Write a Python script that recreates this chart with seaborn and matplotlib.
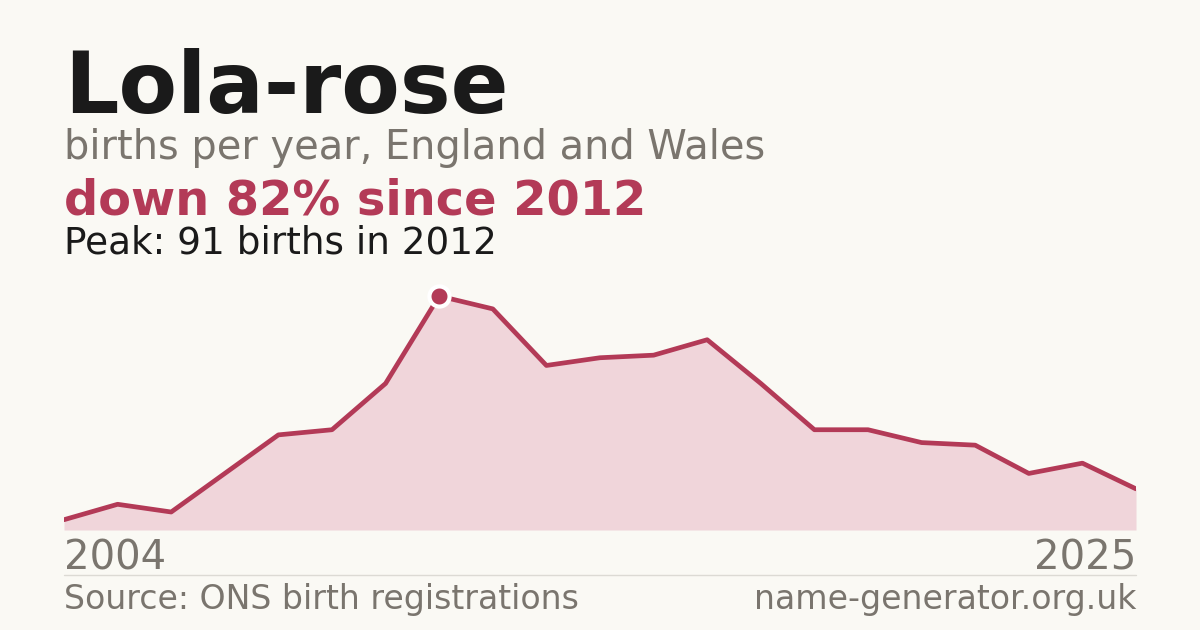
import numpy as np
import pandas as pd
import seaborn as sns
import matplotlib
matplotlib.use("Agg")
import matplotlib.pyplot as plt

# data (points are evenly spaced, one year has no entry)
years = [2004, 2005, 2006, 2008, 2009, 2010, 2011, 2012, 2013, 2014, 2015,
         2016, 2017, 2018, 2019, 2020, 2021, 2022, 2023, 2024, 2025]
births = [4, 10, 7, 22, 37, 39, 57, 91, 86, 64, 67,
          68, 74, 57, 39, 39, 34, 33, 22, 26, 16]

name = "Lola-rose"
subtitle = "births per year, England and Wales"
source = "Source: ONS birth registrations"
site = "name-generator.org.uk"

bg = "#faf9f4"
red = "#b33a57"
fill = "#f0d5da"
grey = "#7a756e"
dark = "#1a1a1a"

df = pd.DataFrame({"idx": range(len(years)), "year": years, "births": births})
peak_i = int(np.argmax(births))
peak_year = years[peak_i]
peak_val = births[peak_i]
drop = round((1 - births[-1] / peak_val) * 100)

sns.set_theme(style="white")
plt.rcParams['font.family'] = ['DejaVu Sans']

fig = plt.figure(figsize=(12, 6.3), dpi=100, facecolor=bg)
ax = fig.add_axes([64 / 1200, 100 / 630, 1072 / 1200, 257.1 / 630])
ax.set_facecolor(bg)

ax.fill_between(df["idx"], df["births"], 0, color=fill, linewidth=0, zorder=1)
sns.lineplot(data=df, x="idx", y="births", ax=ax, color=red, linewidth=3.4,
             zorder=2)
ax.scatter([peak_i], [peak_val], s=210, color=red, edgecolor="white",
           linewidth=3, zorder=3, clip_on=False)

ax.set_xlim(0, len(years) - 1)
ax.set_ylim(0, 100)
ax.set_xticks([])
ax.set_yticks([])
ax.set_xlabel("")
ax.set_ylabel("")
for s in ax.spines.values():
    s.set_visible(False)

# year labels under the ends
ax.text(0, -0.153, str(years[0]), transform=ax.transAxes,
        ha="left", va="baseline", fontsize=28.9, color=grey)
ax.text(1, -0.153, str(years[-1]), transform=ax.transAxes,
        ha="right", va="baseline", fontsize=28.9, color=grey)

# headings
x0 = 64 / 1200
fig.text(x0, 1 - 112.7 / 630, name, fontsize=61.5, fontweight="bold",
         color=dark, ha="left", va="baseline")
fig.text(x0, 1 - 159.3 / 630, subtitle, fontsize=28.7, color=grey,
         ha="left", va="baseline")
fig.text(x0, 1 - 214.3 / 630, f"down {drop}% since {peak_year}", fontsize=34.5,
         fontweight="bold", color=red, ha="left", va="baseline")
fig.text(x0, 1 - 253.3 / 630, f"Peak: {peak_val} births in {peak_year}",
         fontsize=26.9, color=dark, ha="left", va="baseline")

# footer
fig.add_artist(plt.Line2D([x0, 1136 / 1200], [1 - 574.5 / 630] * 2,
                          color="#dcdad4", linewidth=1))
fig.text(x0, 1 - 609.3 / 630, source, fontsize=23.9, color=grey,
         ha="left", va="baseline")
fig.text(1136 / 1200, 1 - 609.3 / 630, site, fontsize=23.9, color=grey,
         ha="right", va="baseline")

fig.savefig("out.png", dpi=100, facecolor=bg)
